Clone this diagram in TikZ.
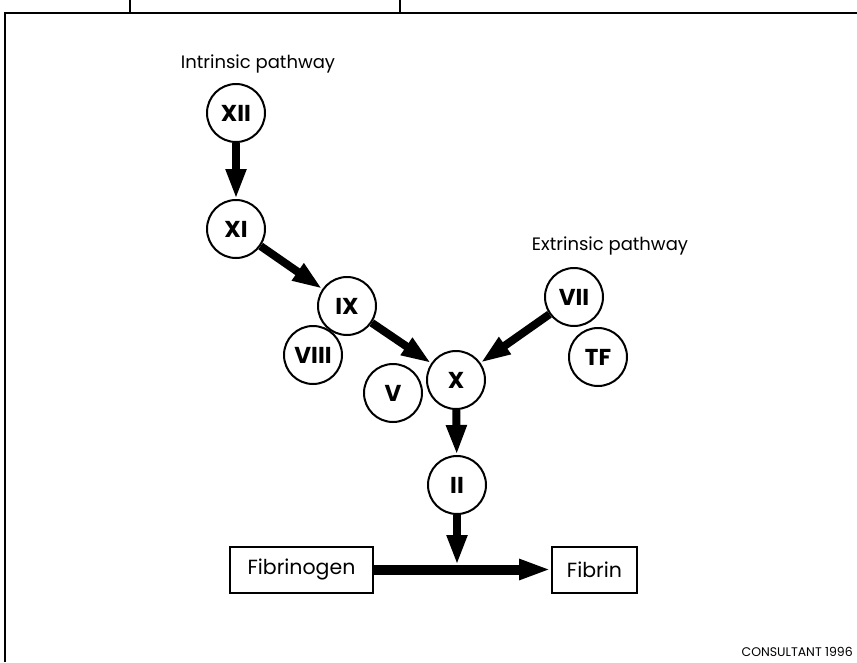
\documentclass[tikz,border=0pt]{standalone}
\usepackage{fontspec}
\setmainfont{Poppins}
\usetikzlibrary{arrows.meta}
\begin{document}
\begin{tikzpicture}[x=1pt,y=-1pt,
  fac/.style={circle, draw, line width=2pt, minimum size=58pt, inner sep=0pt,
    font=\bfseries\fontsize{23}{23}\selectfont},
  lbl/.style={font=\fontsize{18}{18}\selectfont},
  boxn/.style={draw, line width=2pt, minimum height=46pt, inner sep=0pt,
    font=\fontsize{20.5}{20.5}\selectfont},
  arr/.style={line width=8pt, -{Triangle[width=19pt,length=30pt]}},
  harr/.style={line width=10pt, -{Triangle[width=19pt,length=32pt]}},
  frame/.style={line width=1.6pt}
]
\useasboundingbox (0,0) rectangle (857,662);
% frame
\coordinate (tl) at (5,13);
\coordinate (tr) at (857,13);
\coordinate (bl) at (5,662);
\coordinate (h1) at (130,0);
\coordinate (h2) at (400,0);
\draw[frame] (bl) -- (tl) -- (tr);
\draw[frame] (h1) -- (h1 |- tl);
\draw[frame] (h2) -- (h2 |- tl);
% labels
\node[lbl] (intr) at (258,64) {Intrinsic pathway};
\node[lbl] (extr) at (610,246) {Extrinsic pathway};
% factors
\node[fac] (XII) at (236,113) {XII};
\node[fac] (XI) at (236,229) {XI};
\node[fac] (IX) at (347,306) {IX};
\node[fac] (VIII) at (313,355) {VIII};
\node[fac] (X) at (456,380) {X};
\node[fac] (V) at (393,393) {V};
\node[fac] (VII) at (574,297) {VII};
\node[fac] (TF) at (598,357) {TF};
\node[fac] (II) at (457,485) {II};
% boxes
\node[boxn, minimum width=143pt] (fg) at (301.5,569.5) {Fibrinogen};
\node[boxn, minimum width=85pt] (fb) at (594.5,569.5) {Fibrin};
\coordinate (m) at (457,565);
% arrows
\draw[arr] (XII) -- (XI);
\draw[arr] (XI) -- (IX);
\draw[arr] (IX) -- (X);
\draw[arr] (VII) -- (X);
\draw[arr] (X) -- (II);
\draw[harr] (fg) -- (fb);
\draw[arr] (II) -- (m);
% credit
\node[font=\fontsize{12.5}{12.5}\selectfont, anchor=east, inner sep=0pt] (cred) at (853,652) {CONSULTANT 1996};
\end{tikzpicture}
\end{document}
